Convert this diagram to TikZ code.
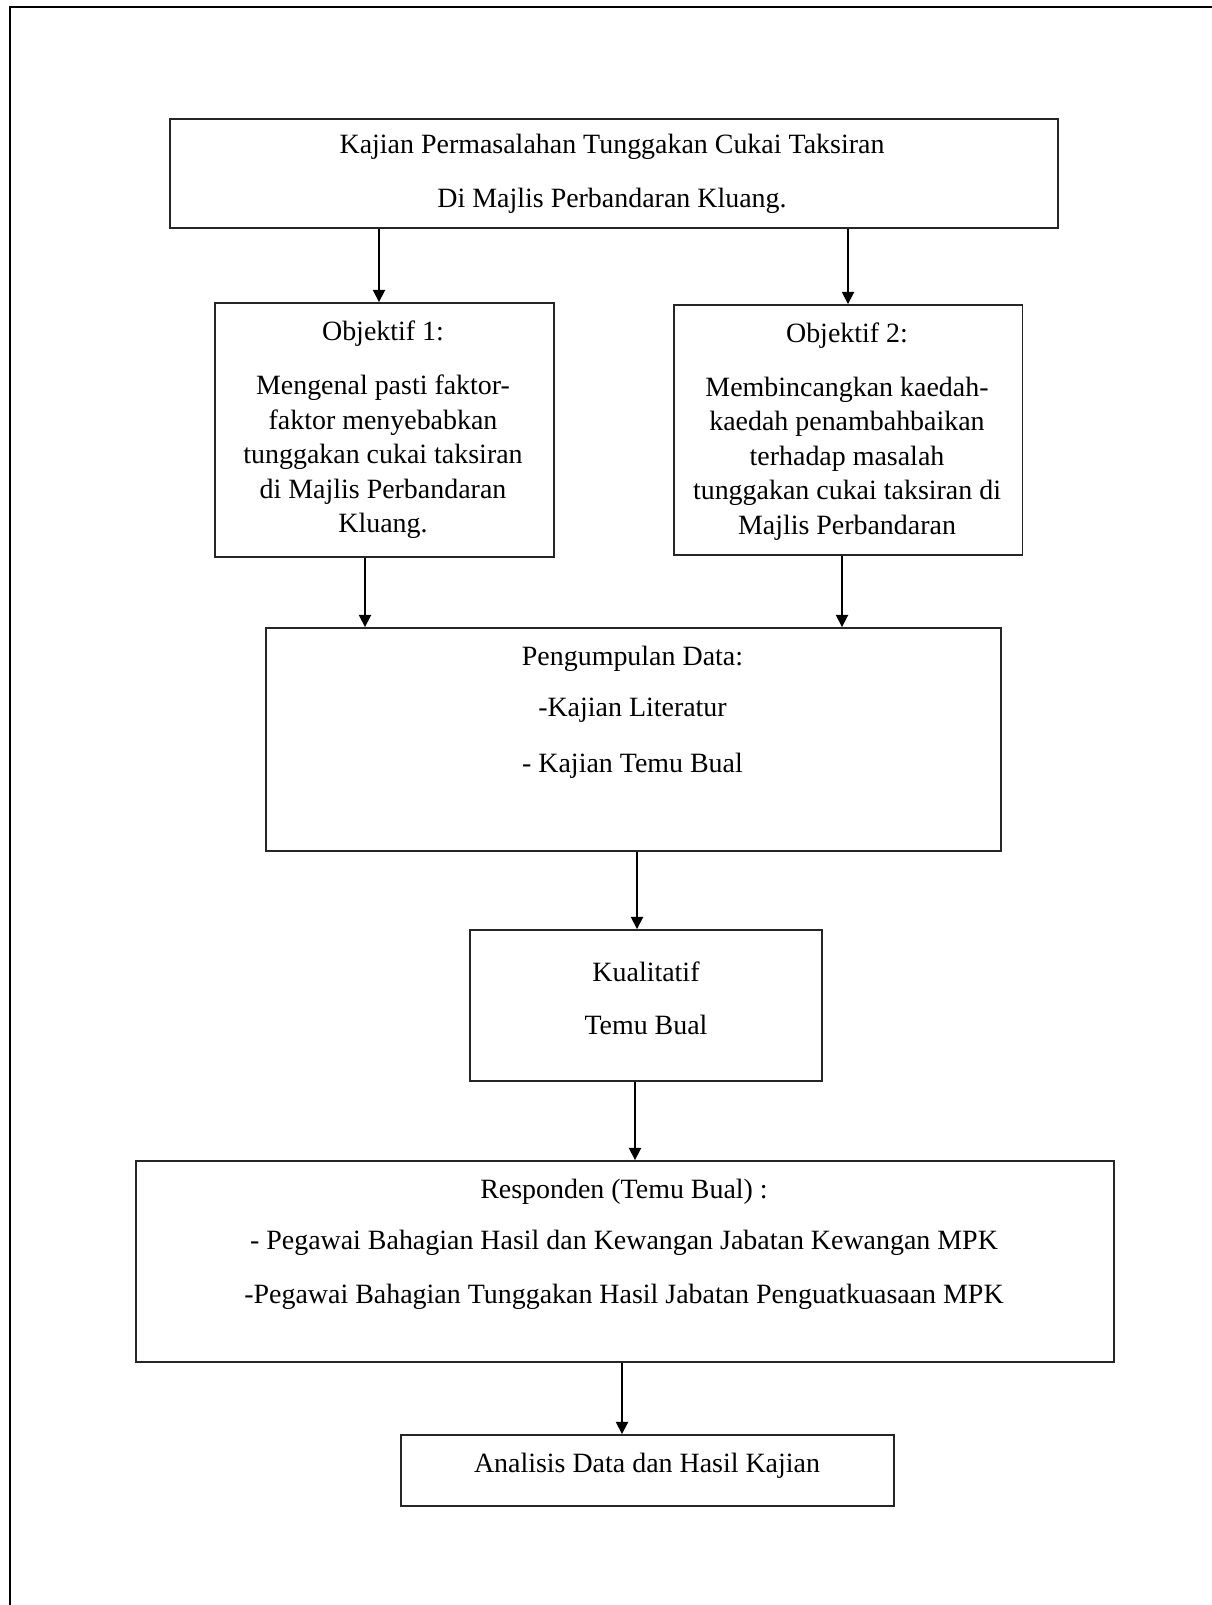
\documentclass[tikz,border=0pt]{standalone}
\usepackage{fontspec}
\setmainfont{Liberation Serif}
\usetikzlibrary{arrows.meta}
\tikzset{
  box/.style={draw=black!85, line width=1.1pt, inner sep=0pt},
  txt/.style={align=center, inner sep=0pt},
  arr/.style={-{Triangle[length=7pt,width=7pt]}, line width=1pt}
}
\begin{document}
\begin{tikzpicture}[x=0.02cm, y=-0.02cm, font=\fontsize{15.9pt}{19.6pt}\selectfont]
%\draw[step=50,gray,very thin] (0,0) grid (1212,1605);
\useasboundingbox (0,0) rectangle (1212,1605);
\draw[line width=1.7pt] (10,1605) -- (10,7) -- (1212,7);
\node[box, minimum width=17.76cm, minimum height=2.18cm] (topbox) at (614,173.5) {};
\node[box, minimum width=6.78cm, minimum height=5.08cm] (obj1) at (384.5,430) {};
\node[box, minimum width=6.98cm, minimum height=5cm] (obj2) at (848,430) {};
\node[box, minimum width=14.7cm, minimum height=4.46cm] (peng) at (633.5,739.5) {};
\node[box, minimum width=7.04cm, minimum height=3.02cm] (kual) at (646,1005.5) {};
\node[box, minimum width=19.56cm, minimum height=4.02cm] (resp) at (625,1261.5) {};
\node[box, minimum width=9.86cm, minimum height=1.42cm] (anal) at (647.5,1470.5) {};
\node[txt] (toptxt) at (612,174) {Kajian Permasalahan Tunggakan Cukai Taksiran\\[11.1pt]Di Majlis Perbandaran Kluang.};
\node[txt] (obj1txt) at (383,430) {Objektif 1:\\[11.1pt]Mengenal pasti faktor-\\faktor menyebabkan\\tunggakan cukai taksiran\\di Majlis Perbandaran\\Kluang.};
\node[txt] (obj2txt) at (847,431.5) {Objektif 2:\\[11.1pt]Membincangkan kaedah-\\kaedah penambahbaikan\\terhadap masalah\\tunggakan cukai taksiran di\\Majlis Perbandaran};
\node[txt] (pengtxt) at (632.5,712.5) {Pengumpulan Data:\\[9.4pt]-Kajian Literatur\\[12.3pt]- Kajian Temu Bual};
\node[txt] (kualtxt) at (646,998) {Kualitatif\\[10.6pt]Temu Bual};
\node[txt] (resptxt) at (624,1244.5) {Responden (Temu Bual) :\\[9.4pt]- Pegawai Bahagian Hasil dan Kewangan Jabatan Kewangan MPK\\[11.1pt]-Pegawai Bahagian Tunggakan Hasil Jabatan Penguatkuasaan MPK};
\node[txt] (analtxt) at (647,1466) {Analisis Data dan Hasil Kajian};
\draw[arr] (379,0 |- topbox.south) -- (379,0 |- obj1.north);
\draw[arr] (848,0 |- topbox.south) -- (848,0 |- obj2.north);
\draw[arr] (365,0 |- obj1.south) -- (365,0 |- peng.north);
\draw[arr] (842,0 |- obj2.south) -- (842,0 |- peng.north);
\draw[arr] (637,0 |- peng.south) -- (637,0 |- kual.north);
\draw[arr] (635,0 |- kual.south) -- (635,0 |- resp.north);
\draw[arr] (622,0 |- resp.south) -- (622,0 |- anal.north);
\end{tikzpicture}
\end{document}
